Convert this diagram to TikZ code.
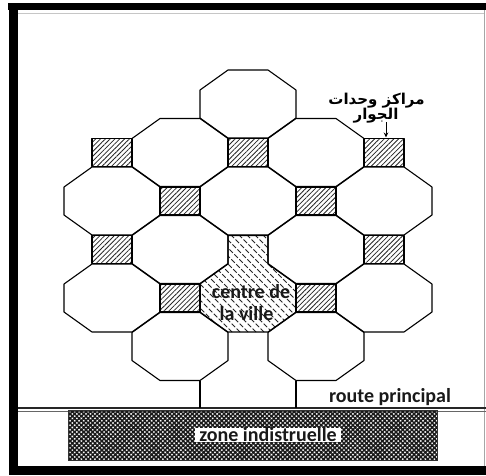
\documentclass[tikz,border=0pt]{standalone}
\usepackage{fontspec}
\setmainfont{Carlito}
\newfontfamily\arabicfont[Script=Arabic]{DejaVu Sans}
\TeXXeTstate=1
\usetikzlibrary{patterns.meta,arrows.meta}
\begin{document}
\begin{tikzpicture}[x=1pt,y=-1pt,
  octline/.style={draw=black,line width=1.1pt,line join=round},
  sqhatch/.style={draw=black,line width=1.1pt,line join=round,
     pattern={Lines[angle=45,distance=3.4pt,line width=0.8pt]},pattern color=black!85},
  ctrhatch/.style={black!85,line width=0.8pt,dash pattern=on 5pt off 2pt},
  lbl/.style={font=\bfseries\fontsize{20}{22}\selectfont,text=black!90,inner sep=1pt},
  arlbl/.style={font=\arabicfont\bfseries\fontsize{15}{17}\selectfont,inner sep=0pt}]
\useasboundingbox (0,0) rectangle (486,475);
\fill[white] (0,0) rectangle (486,475);
% frame
\fill[black] (8,3) rectangle (486,10);
\fill[black] (9,3) rectangle (18,475);
\fill[black] (9,466) rectangle (486,475);
\draw[gray!70,line width=0.8pt] (484,10) -- (484,466);
\draw[gray!45,line width=0.6pt] (18,13) -- (484,13);
% road
\draw[black!60,line width=0.7pt] (18,411.5) -- (486,411.5);
\draw[black!85,line width=1.5pt] (18,408) -- (486,408);
% industrial zone
\path[draw=black!80,line width=0.8pt,pattern={Hatch[angle=45,distance=3.2pt,line width=1.5pt]},pattern color=black!90]
  (68,410) rectangle (437,460);
\node[lbl,fill=white,inner xsep=4pt,inner ysep=0pt] (zone) at (268,435) {zone indistruelle};
\node[lbl] (road) at (390,397) {route principal};
% squares (neighbourhood centres)
\foreach \i/\j in {0/1,2/1,4/1,1/2,3/2,0/3,4/3,1/4,3/4}{
  \pgfmathsetmacro\X{112+68*\i}
  \pgfmathsetmacro\Y{104+48.5*\j}
  \path[sqhatch] (\X-20,\Y-14) rectangle (\X+20,\Y+14);
}
% city centre
\begin{scope}
  \clip (228,235.5) -- (268,235.5) -- (268,264) -- (296,284) -- (296,312) -- (268,332)
    -- (228,332) -- (200,312) -- (200,284) -- (228,264) -- cycle;
  \foreach \c in {-140,-132,...,70}
    \draw[ctrhatch] (\c+190,190) -- (\c+350,350);
\end{scope}
\draw[octline] (228,235.5) -- (268,235.5) -- (268,264) -- (296,284) -- (296,312) -- (268,332)
    -- (228,332) -- (200,312) -- (200,284) -- (228,264) -- cycle;
% octagons
\foreach \i/\j in {2/0,1/1,3/1,0/2,2/2,4/2,1/3,3/3,0/4,4/4,1/5,3/5}{
  \pgfmathsetmacro\X{112+68*\i}
  \pgfmathsetmacro\Y{104+48.5*\j}
  \draw[octline] (\X-20,\Y-34) -- (\X+20,\Y-34) -- (\X+48,\Y-14) -- (\X+48,\Y+14)
     -- (\X+20,\Y+34) -- (\X-20,\Y+34) -- (\X-48,\Y+14) -- (\X-48,\Y-14) -- cycle;
}
% links to the main road
\coordinate (w1) at (200,380.5);
\coordinate (w2) at (296,380.5);
\coordinate (r1) at (200,408);
\coordinate (r2) at (296,408);
\draw[octline] (w1) -- (r1);
\draw[octline] (w2) -- (r2);
% labels
\node[lbl] (c1) at (251,292) {centre de};
\node[lbl] (c2) at (246.5,314) {la ville};
\node[arlbl] (ar1) at (376.5,101) {\beginR مراكز وحدات\endR};
\node[arlbl] (ar2) at (376,116) {\beginR الجوار\endR};
\coordinate (as) at (386,122);
\coordinate (at) at (386,137.5);
\draw[line width=0.9pt,-{Stealth[length=5pt,width=4.5pt]}] (as) -- (at);
\end{tikzpicture}
\end{document}
